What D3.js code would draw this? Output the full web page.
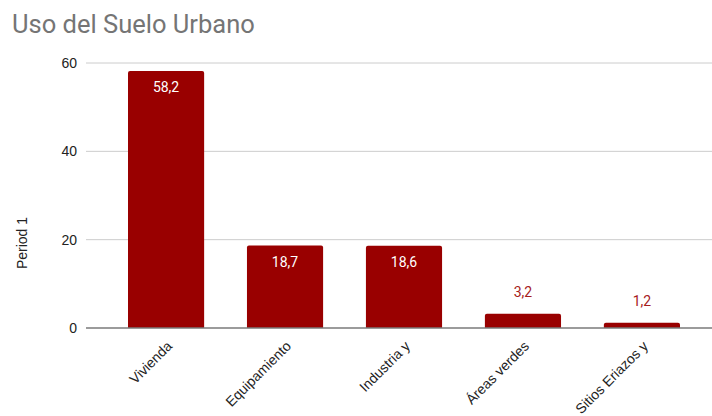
<!DOCTYPE html>
<html>
<head>
<meta charset="utf-8">
<script src="https://cdn.jsdelivr.net/npm/d3@7"></script>
<style>
  html, body { margin: 0; padding: 0; background: #fff; }
  svg { display: block; font-family: Roboto, "Noto Sans", Arial, sans-serif; }
  .axis-text { font-family: "Liberation Sans", Arial, sans-serif; }
</style>
</head>
<body>
<svg id="chart" width="712" height="416"></svg>
<script>
// Land-use shares (percent)
const categories = ["Vivienda", "Equipamiento", "Industria y", "Áreas verdes", "Sitios Eriazos y"];
const values = [58.2, 18.7, 18.6, 3.2, 1.2];
const yTicks = [0, 20, 40, 60];
const titleText = "Uso del Suelo Urbano";
const yTitle = "Period 1";

const svg = d3.select("#chart");
const plot = { left: 86, right: 712, top: 63, bottom: 328 };

const x = d3.scaleBand()
  .domain(categories)
  .range([128, 680])
  .paddingInner(0.36)
  .paddingOuter(0);

const y = d3.scaleLinear()
  .domain([0, 60])
  .range([plot.bottom, plot.top]);

const fmt = v => d3.format(".1f")(v).replace(".", ",");

// title
svg.append("text")
  .attr("x", 12).attr("y", 33)
  .attr("font-size", 25.5)
  .attr("fill", "#757575")
  .text(titleText);

// gridlines
svg.append("g")
  .selectAll("line")
  .data(yTicks.filter(t => t !== 0))
  .join("line")
  .attr("x1", plot.left).attr("x2", plot.right)
  .attr("y1", d => y(d)).attr("y2", d => y(d))
  .attr("stroke", "#cccccc").attr("stroke-width", 1);

// y tick labels
const yAxis = d3.axisLeft(y).tickValues(yTicks).tickSize(0).tickPadding(0);
const gy = svg.append("g")
  .attr("transform", `translate(${plot.left - 9},0)`)
  .call(yAxis);
gy.select(".domain").remove();
gy.attr("font-family", null);
gy.selectAll("text")
  .attr("class", "axis-text")
  .attr("font-size", 14)
  .attr("fill", "#222");

// y title
svg.append("text")
  .attr("class", "axis-text")
  .attr("transform", `translate(27,243) rotate(-90)`)
  .attr("text-anchor", "middle")
  .attr("font-size", 14)
  .attr("fill", "#222")
  .text(yTitle);

// bars with slightly rounded tops
const r = 2;
const barPath = (x0, w, yTop, yBot) => {
  const rr = Math.min(r, (yBot - yTop));
  return `M${x0},${yBot}V${yTop + rr}Q${x0},${yTop} ${x0 + rr},${yTop}H${x0 + w - rr}Q${x0 + w},${yTop} ${x0 + w},${yTop + rr}V${yBot}Z`;
};

const rows = categories.map((c, i) => ({ c, v: values[i] }));

svg.append("g")
  .selectAll("path")
  .data(rows)
  .join("path")
  .attr("d", d => barPath(x(d.c), x.bandwidth(), y(d.v), y(0)))
  .attr("fill", "#990000");

// baseline
svg.append("line")
  .attr("x1", plot.left).attr("x2", plot.right)
  .attr("y1", y(0)).attr("y2", y(0))
  .attr("stroke", "#7a7a7a").attr("stroke-width", 1.5);

// value labels: inside tall bars, above short ones
const inside = d => (y(0) - y(d.v)) > 40;
svg.append("g")
  .selectAll("text")
  .data(rows)
  .join("text")
  .attr("x", d => x(d.c) + x.bandwidth() / 2)
  .attr("y", d => inside(d) ? y(d.v) + 21.5 : y(d.v) - 17)
  .attr("text-anchor", "middle")
  .attr("font-size", 14)
  .attr("fill", d => inside(d) ? "#ffffff" : "#a61c1c")
  .text(d => fmt(d.v));

// category labels, rotated
svg.append("g")
  .selectAll("text")
  .data(categories)
  .join("text")
  .attr("class", "axis-text")
  .attr("transform", d => `translate(${x(d) + x.bandwidth() / 2 + 7},${y(0) + 19}) rotate(-45)`)
  .attr("text-anchor", "end")
  .attr("font-size", 14)
  .attr("fill", "#222")
  .text(d => d);
</script>
</body>
</html>
